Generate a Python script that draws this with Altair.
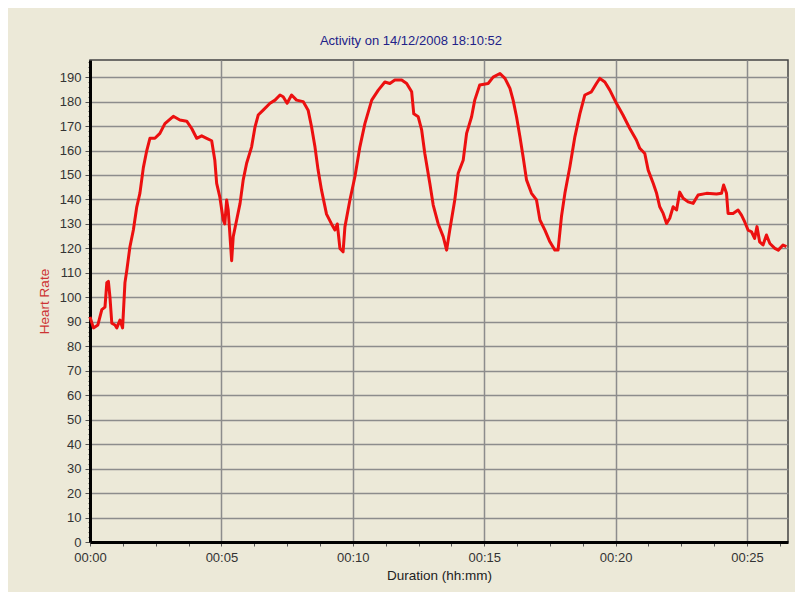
import altair as alt
import pandas as pd

# elapsed time in minutes, heart rate in bpm
minutes = [0.00, 0.13, 0.30, 0.45, 0.57, 0.64, 0.70, 0.76, 0.83, 0.95, 1.02, 1.14, 1.24, 1.33,
           1.40, 1.52, 1.65, 1.78, 1.90, 2.03, 2.16, 2.28, 2.47, 2.66, 2.85, 3.17, 3.42, 3.68,
           3.87, 4.06, 4.25, 4.44, 4.63, 4.75, 4.82, 4.94, 5.07, 5.13, 5.20, 5.26, 5.39, 5.45,
           5.58, 5.71, 5.83, 5.96, 6.15, 6.28, 6.40, 6.59, 6.85, 7.04, 7.23, 7.35, 7.50, 7.67,
           7.86, 8.11, 8.30, 8.43, 8.56, 8.68, 8.81, 9.00, 9.19, 9.32, 9.41, 9.51, 9.63, 9.70,
           9.89, 10.08, 10.27, 10.46, 10.72, 10.97, 11.22, 11.41, 11.60, 11.86, 12.05, 12.24,
           12.32, 12.49, 12.62, 12.74, 12.93, 13.06, 13.25, 13.44, 13.57, 13.69, 13.88, 14.01,
           14.20, 14.33, 14.52, 14.64, 14.83, 15.15, 15.34, 15.60, 15.79, 15.98, 16.10, 16.23,
           16.36, 16.48, 16.61, 16.80, 16.99, 17.12, 17.31, 17.50, 17.69, 17.81, 17.94, 18.07,
           18.26, 18.45, 18.64, 18.83, 19.08, 19.27, 19.40, 19.59, 19.78, 20.03, 20.28, 20.54,
           20.79, 20.92, 21.11, 21.24, 21.43, 21.56, 21.68, 21.81, 21.94, 22.06, 22.19, 22.32,
           22.44, 22.57, 22.76, 22.95, 23.14, 23.46, 23.84, 24.03, 24.11, 24.22, 24.28, 24.47,
           24.66, 24.79, 24.91, 25.04, 25.17, 25.29, 25.38, 25.48, 25.61, 25.74, 25.87, 26.06,
           26.19, 26.37, 26.50]
heart_rate = [92.0, 87.5, 88.7, 95.0, 96.0, 106.0, 106.5, 100.0, 89.4, 88.7, 87.5, 90.7, 87.5, 106.0,
              111.0, 120.7, 127.5, 137.0, 142.6, 153.0, 160.0, 165.0, 165.0, 167.0, 171.0, 174.0, 172.5, 172.0,
              169.0, 165.0, 166.0, 165.0, 164.0, 156.0, 146.6, 141.0, 131.6, 130.0, 139.8, 135.7, 115.0, 124.8,
              131.6, 138.4, 148.0, 154.8, 161.5, 169.7, 174.5, 176.5, 179.3, 180.6, 182.7, 182.0, 179.3, 182.7,
              180.6, 180.0, 176.5, 169.7, 161.5, 152.0, 143.8, 134.0, 130.0, 127.5, 130.0, 120.0, 118.6, 128.8,
              139.8, 149.3, 161.5, 171.0, 180.6, 184.7, 188.0, 187.4, 188.8, 188.8, 187.4, 184.0,
              175.0, 173.8, 168.4, 158.8, 146.6, 137.7, 130.0, 124.8, 119.3, 127.5, 139.8, 150.7,
              156.0, 167.0, 173.8, 180.6, 186.8, 187.4, 190.0, 191.5, 189.5, 185.4, 180.6, 173.8,
              165.6, 157.5, 148.0, 142.5, 139.8, 131.6, 127.5, 122.7, 119.3, 119.3, 133.0, 142.5,
              153.4, 165.6, 175.0, 182.7, 184.0, 187.4, 189.5, 188.0, 184.7, 179.3, 174.5, 169.0,
              164.3, 160.9, 158.8, 152.0, 146.6, 142.5, 137.0, 134.3, 130.2, 132.3, 137.0, 135.7,
              143.0, 140.5, 139.0, 138.4, 141.8, 142.5, 142.2, 142.5, 145.9, 142.5, 134.3, 134.3,
              135.7, 133.6, 130.9, 127.5, 126.8, 124.1, 128.9, 122.7, 121.4, 125.5, 122.0, 120.0,
              119.3, 121.4, 120.7]

x_tick_values = [0, 1.25, 2.5, 3.75, 5, 6.25, 7.5, 8.75, 10, 11.25, 12.5, 13.75, 15, 16.25,
                 17.5, 18.75, 20, 21.25, 22.5, 23.75, 25, 26.25]
y_tick_values = list(range(0, 197, 2))

df = pd.DataFrame({"t": minutes, "hr": heart_rate})

FONT = "Liberation Sans"
BG = "#ECE9D8"

x_axis = alt.Axis(
    values=x_tick_values,
    labelExpr="datum.value % 5 === 0 ? ('00:' + (datum.value < 10 ? '0' : '') + datum.value) : ''",
    labelFlush=False, labelOverlap=False,
    grid=True, gridColor="#8c8c8c", gridWidth=1.5,
    gridOpacity={"condition": {"test": "datum.value % 5 === 0", "value": 1}, "value": 0},
    tickSize=4, tickColor="#555555", tickWidth=1,
    domainColor="#000000", domainWidth=3,
    labelFont=FONT, labelFontSize=13, labelColor="#333333", labelPadding=5,
    title="Duration (hh:mm)", titleFont=FONT, titleFontSize=13.5, titleFontWeight="normal",
    titleColor="#222222", titlePadding=4,
)

y_axis = alt.Axis(
    values=y_tick_values,
    labelExpr="datum.value % 10 === 0 ? datum.value : ''",
    labelOverlap=False,
    grid=True, gridColor="#8c8c8c", gridWidth=1.5,
    gridOpacity={"condition": {"test": "datum.value % 10 === 0", "value": 1}, "value": 0},
    tickSize={"condition": {"test": "datum.value % 10 === 0", "value": 5}, "value": 2},
    tickColor="#555555", tickWidth=1,
    domainColor="#000000", domainWidth=3,
    labelFont=FONT, labelFontSize=13, labelColor="#333333", labelPadding=4,
    title="Heart Rate", titleFont=FONT, titleFontSize=13.5, titleFontWeight="normal",
    titleColor="#cc3333", titlePadding=8,
)

chart = (
    alt.Chart(df)
    .mark_line(color="#ec1010", strokeWidth=3, strokeJoin="round")
    .encode(
        x=alt.X("t:Q", scale=alt.Scale(domain=[0, 26.56], nice=False, zero=False), axis=x_axis),
        y=alt.Y("hr:Q", scale=alt.Scale(domain=[0, 197], nice=False), axis=y_axis),
    )
    .properties(
        width=698, height=482,
        padding={"left": 82, "top": 52, "right": 7, "bottom": 50},
        autosize=alt.AutoSizeParams(type="none"),
        background=BG,
        title=alt.TitleParams(
            "Activity on 14/12/2008 18:10:52", font=FONT, fontSize=13, fontWeight="normal",
            color="#222288", anchor="middle", dx=-28, offset=8,
        ),
    )
    .configure_view(stroke="#444444", strokeWidth=1.5, fill=BG)
)

chart.save("out.html", embed_options={"renderer": "svg", "actions": False})
